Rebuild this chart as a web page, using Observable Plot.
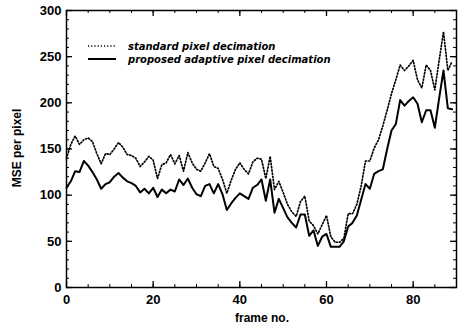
<!DOCTYPE html>
<html>
<head>
<meta charset="utf-8">
<script src="https://cdn.jsdelivr.net/npm/d3@7"></script>
<script src="https://cdn.jsdelivr.net/npm/@observablehq/plot@0.6"></script>
<style>
  html, body { margin: 0; padding: 0; background: #fff; }
  #chart { position: relative; width: 458px; height: 326px; }
  svg { font-family: "Liberation Sans", Arial, sans-serif; }
</style>
</head>
<body>
<div id="chart"></div>
<script>
const seriesNames = ["standard pixel decimation", "proposed adaptive pixel decimation"];
const xTicks = [0, 20, 40, 60, 80];
const yTicks = [0, 50, 100, 150, 200, 250, 300];
const xLabel = "frame no.";
const yLabel = "MSE per pixel";

const standard = [
  140, 155, 164, 155, 160, 162, 158, 145, 134, 145,
  144, 150, 157, 152, 144, 143, 140, 131, 136, 142,
  138, 118, 133, 135, 144, 134, 143, 126, 146, 135,
  128, 126, 135, 145, 131, 129, 117, 102, 116, 128,
  135, 128, 123, 136, 140, 139, 118, 142, 106, 115,
  103, 90, 82, 77, 93, 99, 72, 67, 58, 68,
  78, 55, 49, 49, 53, 80, 80, 90, 110, 137,
  137, 151, 160, 175, 192, 210, 225, 241, 235, 240,
  246, 225, 216, 241, 235, 214, 246, 277, 235, 245
];
const proposed = [
  108, 115, 126, 125, 137, 132, 125, 117, 107, 112,
  114, 120, 124, 119, 115, 113, 110, 103, 107, 102,
  108, 98, 106, 102, 106, 104, 117, 111, 118, 108,
  101, 99, 110, 112, 102, 112, 101, 84, 91, 97,
  102, 99, 96, 108, 111, 117, 94, 117, 81, 96,
  86, 76, 70, 65, 79, 79, 56, 62, 45, 55,
  58, 44, 44, 44, 50, 66, 70, 78, 95, 112,
  107, 123, 126, 128, 150, 170, 177, 203, 197, 202,
  206, 199, 179, 192, 192, 173, 205, 235, 194, 193
];

const rows = [];
standard.forEach((v, i) => rows.push({frame: i, mse: v, series: seriesNames[0]}));
proposed.forEach((v, i) => rows.push({frame: i, mse: v, series: seriesNames[1]}));

const xMinor = d3.range(0, 91, 5);
const yMinor = d3.range(0, 301, 10);

const W = 458, H = 326, mL = 66, mR = 2, mT = 10, mB = 39;
const fw = W - mL - mR, fh = H - mT - mB;

const plot = Plot.plot({
  width: W,
  height: H,
  marginLeft: mL,
  marginRight: mR,
  marginTop: mT,
  marginBottom: mB,
  x: {domain: [0, 90], label: null},
  y: {domain: [0, 300], label: null},
  style: {fontFamily: "'Liberation Sans', Arial, sans-serif", fontSize: "13px", fontWeight: "bold", color: "#000", background: "#fff"},
  marks: [
    Plot.frame({stroke: "#000", strokeWidth: 1.5}),
    // tick labels
    Plot.axisY(yTicks, {anchor: "left", tickSize: 0, tickPadding: 5, fontSize: 13, fontWeight: "bold", label: null}),
    Plot.axisX(xTicks, {anchor: "bottom", tickSize: 0, tickPadding: 7, fontSize: 13, fontWeight: "bold", label: null}),
    // inward ticks (left / right)
    Plot.tickY(yMinor, {y: d => d, insetRight: fw - 3, stroke: "#000"}),
    Plot.tickY(yTicks, {y: d => d, insetRight: fw - 6, stroke: "#000", strokeWidth: 1.3}),
    Plot.tickY(yMinor, {y: d => d, insetLeft: fw - 3, stroke: "#000"}),
    Plot.tickY(yTicks, {y: d => d, insetLeft: fw - 6, stroke: "#000", strokeWidth: 1.3}),
    // inward ticks (bottom / top)
    Plot.tickX(xMinor, {x: d => d, insetTop: fh - 3, stroke: "#000"}),
    Plot.tickX(xTicks, {x: d => d, insetTop: fh - 6, stroke: "#000", strokeWidth: 1.3}),
    Plot.tickX(xMinor, {x: d => d, insetBottom: fh - 3, stroke: "#000"}),
    Plot.tickX(xTicks, {x: d => d, insetBottom: fh - 6, stroke: "#000", strokeWidth: 1.3}),
    Plot.line(rows.filter(d => d.series === seriesNames[0]), {x: "frame", y: "mse", stroke: "#000", strokeWidth: 1.7, strokeDasharray: "1.2,2"}),
    Plot.line(rows.filter(d => d.series === seriesNames[1]), {x: "frame", y: "mse", stroke: "#000", strokeWidth: 2}),
  ]
});

document.getElementById("chart").appendChild(plot);

// axis titles and legend
const svg = d3.select(plot);
svg.append("text").attr("x", 262).attr("y", 322).attr("text-anchor", "middle")
  .style("font-size", "12px").style("font-weight", "bold").text(xLabel);
svg.append("text").attr("transform", "translate(21,148) rotate(-90)").attr("text-anchor", "middle")
  .style("font-size", "12px").style("font-weight", "bold").text(yLabel);

const legendY = [46, 59];
const styles = [{dash: "1.2,2", w: 1.7}, {dash: null, w: 2}];
seriesNames.forEach((name, i) => {
  svg.append("line").attr("x1", 88).attr("x2", 116).attr("y1", legendY[i]).attr("y2", legendY[i])
    .attr("stroke", "#000").attr("stroke-width", styles[i].w).attr("stroke-dasharray", styles[i].dash);
  svg.append("text").attr("x", 128).attr("y", legendY[i] + 4).attr("text-anchor", "start")
    .style("font-family", "'DejaVu Sans', sans-serif")
    .style("font-size", "10px").style("font-weight", "bold").style("font-style", "italic").text(name);
});
</script>
</body>
</html>
